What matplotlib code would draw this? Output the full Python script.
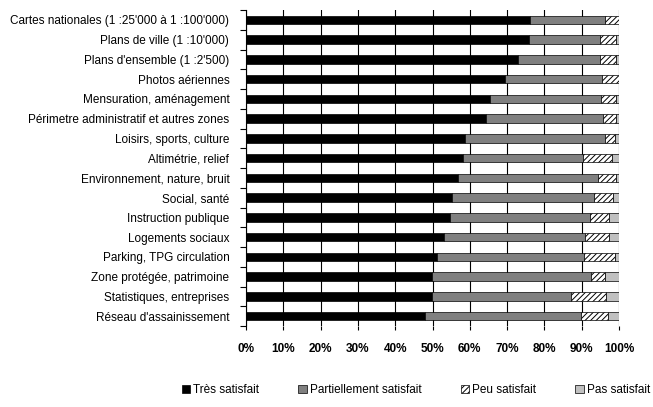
import matplotlib.pyplot as plt
import numpy as np
from matplotlib.patches import Patch

plt.rcParams['font.family'] = ['Liberation Sans', 'DejaVu Sans']
plt.rcParams['hatch.linewidth'] = 0.7

categories = [
    "Cartes nationales (1 :25'000 à 1 :100'000)",
    "Plans de ville (1 :10'000)",
    "Plans d'ensemble (1 :2'500)",
    "Photos aériennes",
    "Mensuration, aménagement",
    "Périmetre administratif et autres zones",
    "Loisirs, sports, culture",
    "Altimétrie, relief",
    "Environnement, nature, bruit",
    "Social, santé",
    "Instruction publique",
    "Logements sociaux",
    "Parking, TPG circulation",
    "Zone protégée, patrimoine",
    "Statistiques, entreprises",
    "Réseau d'assainissement",
]

# percentages per category
tres = [76.1, 76.0, 72.8, 69.4, 65.3, 64.4, 58.7, 58.3, 56.9, 55.2, 54.8, 53.1, 51.3, 49.9, 49.9, 47.9]
partiel = [20.1, 19.0, 22.2, 26.1, 29.8, 31.3, 37.5, 32.1, 37.5, 38.0, 37.5, 37.9, 39.3, 42.7, 37.3, 41.9]
peu = [3.8, 4.3, 4.3, 4.5, 4.0, 3.4, 2.6, 7.6, 4.7, 5.3, 5.1, 6.4, 8.2, 3.6, 9.4, 7.3]
pas = [0.0, 0.7, 0.7, 0.0, 0.9, 0.9, 1.2, 2.0, 0.9, 1.5, 2.6, 2.6, 1.2, 3.8, 3.4, 2.9]

series = [tres, partiel, peu, pas]
labels = ['Très satisfait', 'Partiellement satisfait', 'Peu satisfait', 'Pas satisfait']
colors = ['black', '#808080', 'white', '#c0c0c0']
hatches = [None, None, '//////', None]

fig = plt.figure(figsize=(6.53, 4.07), dpi=100)
ax = fig.add_axes([246 / 653, 1 - 326 / 407, 373 / 653, 316 / 407])

y = np.arange(len(categories))
left = np.zeros(len(categories))
for vals, lab, col, h in zip(series, labels, colors, hatches):
    vals = np.array(vals)
    ax.barh(y, vals, left=left, height=0.42, color=col, edgecolor='black',
            linewidth=0.5, hatch=h, label=lab, zorder=3)
    left += vals

ax.set_xlim(0, 100)
ax.set_ylim(len(categories) - 0.5, -0.5)

ax.set_xticks(np.arange(0, 101, 10))
ax.set_xticklabels([f'{v}%' for v in range(0, 101, 10)], fontweight='bold', fontsize=8.5)
ax.tick_params(axis='x', length=3, pad=9, width=0.8)
ax.xaxis.grid(True, color='black', linewidth=0.8, zorder=0)

# category boundaries as ticks, labels at bar centres
ax.set_yticks(np.arange(-0.5, len(categories), 1))
ax.set_yticklabels([])
ax.set_yticks(y, minor=True)
ax.set_yticklabels(categories, minor=True, fontsize=8.5)
ax.tick_params(axis='y', which='major', length=4, width=0.8)
ax.tick_params(axis='y', which='minor', length=0, pad=12)

for s in ['top', 'right', 'bottom']:
    ax.spines[s].set_visible(False)
ax.spines['left'].set_linewidth(0.8)

handles = [Patch(facecolor=c, edgecolor='black', hatch=h, linewidth=0.5) for c, h in zip(colors, hatches)]
fig.legend(handles, labels, loc='center', bbox_to_anchor=(416 / 653, 1 - 390 / 407), ncol=4,
           frameon=False, fontsize=8.5, handlelength=0.7, handleheight=0.7,
           handletextpad=0.3, columnspacing=3.3)

fig.savefig('out.png', dpi=100)
